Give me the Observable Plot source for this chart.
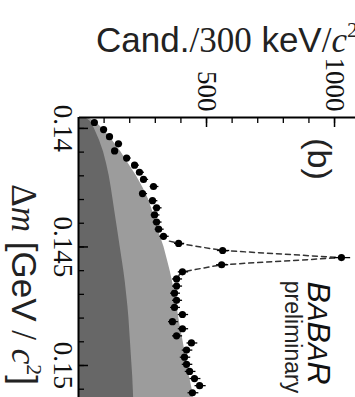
<!DOCTYPE html>
<html><head><meta charset="utf-8">
<script src="https://cdn.jsdelivr.net/npm/d3@7"></script>
<script src="https://cdn.jsdelivr.net/npm/@observablehq/plot@0.6"></script>
<style>
html,body{margin:0;padding:0;overflow:hidden;background:#fff;width:355px;height:397px}
#wrap{position:absolute;left:0;top:0;width:397px;height:355px;transform-origin:0 0;transform:translate(355px,0) rotate(90deg);}
</style></head><body><div id="wrap"></div>
<script>
// Δm bin centres (GeV/c^2) and candidate counts per 300 keV/c^2
const binDm = [0.13975,0.14005,0.14035,0.14065,0.14095,0.14125,0.14155,0.14185,0.14215,0.14245,
  0.14275,0.14305,0.14335,0.14365,0.14395,0.14425,0.14455,0.14485,0.14515,0.14545,
  0.14575,0.14605,0.14635,0.14665,0.14695,0.14725,0.14755,0.14785,0.14815,0.14845,
  0.14875,0.14905,0.14935,0.14965,0.14995,0.15025,0.15055,0.15085,0.15115];
const counts = [62,98,121,156,141,188,219,238,254,293,
  250,289,305,297,305,313,332,391,563,1027,
  559,406,383,383,375,383,375,406,367,406,
  383,441,422,414,422,434,453,473,445];
// background components
const bgDm = [0.13954,0.1397,0.1400,0.1405,0.1410,0.1415,0.1420,0.1425,0.1430,0.1435,0.1440,0.1445,0.1450,
  0.1455,0.1460,0.1465,0.1470,0.1475,0.1480,0.1485,0.1490,0.1495,0.1500,0.1505,0.1510,0.1515];
const darkBg = [22,42,58,78,94,106,116,124,131,138,145,152,159,166,173,179,184,189,193,196,199,202,205,208,210,212];
const totalBg = [30,60,90,128,162,192,222,248,270,286,300,314,330,342,354,364,373,381,388,396,405,413,421,430,440,446];
// dashed fit line through the peak
const fitDm = [0.144755,0.14485,0.14515,0.14545,0.14575,0.14605,0.14629];
const fitCount = [355,391,563,1027,559,406,383];
// axes
const xDomain = [0.13954, 0.15135];
const yDomain = [0, 1078];
const xMajor = [0.14, 0.145, 0.15];
const xMajorLabels = ["0.14", "0.145", "0.15"];
const xMinor = [0.140,0.141,0.142,0.143,0.144,0.145,0.146,0.147,0.148,0.149,0.150,0.151];
const yMajor = [500, 1000];
const yMajorLabels = ["500", "1000"];
const yMinor = [100,200,300,400,500,600,700,800,900,1000];

const SANS = "'Liberation Sans', Arial, Helvetica, sans-serif";
const SERIF = "'Liberation Serif', 'Times New Roman', serif";

const pts = binDm.map((d, i) => ({dm: d, n: counts[i]}));
const bg = bgDm.map((d, i) => ({dm: d, dark: darkBg[i], total: totalBg[i]}));
const fit = fitDm.map((d, i) => ({dm: d, n: fitCount[i]}));

const W = 397, H = 355, mL = 117, mB = 79;
const innerH = H - mB, innerW = W - mL;

const chart = Plot.plot({
  width: W, height: H,
  marginLeft: mL, marginRight: 0, marginTop: 0, marginBottom: mB,
  x: {domain: xDomain},
  y: {domain: yDomain},
  style: {background: "transparent", overflow: "visible"},
  marks: [
    Plot.areaY(bg, {x: "dm", y: "total", fill: "#9c9c9c"}),
    Plot.areaY(bg, {x: "dm", y: "dark", fill: "#676767"}),
    Plot.line(fit, {x: "dm", y: "n", stroke: "#333", strokeWidth: 1.5, strokeDasharray: "5,4"}),
    Plot.ruleX(pts, {x: "dm", y1: d => d.n - Math.sqrt(d.n), y2: d => d.n + Math.sqrt(d.n), stroke: "#000", strokeWidth: 1.3}),
    Plot.dot(pts, {x: "dm", y: "n", r: 3.6, fill: "#000", stroke: null}),
    Plot.tickX(xMinor, {x: d => d, insetTop: innerH - 5, stroke: "#000", strokeWidth: 1.3}),
    Plot.tickX(xMajor, {x: d => d, insetTop: innerH - 9, stroke: "#000", strokeWidth: 1.5}),
    Plot.tickY(yMinor, {y: d => d, insetRight: innerW - 6, stroke: "#000", strokeWidth: 1.3}),
    Plot.tickY(yMajor, {y: d => d, insetRight: innerW - 10, stroke: "#000", strokeWidth: 1.5}),
    Plot.ruleY([yDomain[0]], {stroke: "#000", strokeWidth: 2}),
    Plot.ruleX([xDomain[0]], {stroke: "#000", strokeWidth: 2}),
    Plot.axisX(xMajor, {tickSize: 0, tickPadding: 5, label: null, fontSize: 27, fontFamily: SERIF, fill: "#111",
      tickFormat: d => xMajorLabels[xMajor.indexOf(d)]}),
    Plot.axisY(yMajor, {tickSize: 0, tickPadding: 6, label: null, fontSize: 27, fontFamily: SERIF, fill: "#111",
      tickFormat: d => yMajorLabels[yMajor.indexOf(d)]})
  ]
});
document.getElementById("wrap").appendChild(chart);

const svg = d3.select(chart);
const sx = chart.scale("x"), sy = chart.scale("y");

// y title (appears horizontal after rotation)
const yt = svg.append("text")
  .attr("transform", `translate(52, ${sy.apply(yDomain[1]) - 3}) rotate(-90)`)
  .attr("text-anchor", "end").attr("font-size", 35).attr("fill", "#222");
yt.append("tspan").attr("font-family", SANS).text("Cand.");
yt.append("tspan").attr("font-family", SERIF).text("/300");
yt.append("tspan").attr("font-family", SANS).text(" keV");
yt.append("tspan").attr("font-family", SERIF).text("/");
yt.append("tspan").attr("font-family", SERIF).attr("font-style", "italic").text("c");
yt.append("tspan").attr("font-family", SERIF).attr("font-size", 22).attr("dy", -15).text("2");

// x title
const xt = svg.append("text")
  .attr("transform", `translate(${sx.apply(xDomain[1]) - 12}, 343)`)
  .attr("text-anchor", "end").attr("font-size", 35).attr("fill", "#222");
xt.append("tspan").attr("font-family", SERIF).text("Δ");
xt.append("tspan").attr("font-family", SERIF).attr("font-style", "italic").text("m");
xt.append("tspan").attr("font-family", SANS).text(" [GeV");
xt.append("tspan").attr("font-family", SERIF).text(" / ");
xt.append("tspan").attr("font-family", SERIF).attr("font-style", "italic").text("c");
xt.append("tspan").attr("font-family", SERIF).attr("font-size", 22).attr("dy", -15).text("2");
xt.append("tspan").attr("font-family", SANS).attr("dy", 15).text("]");

// (b) label
svg.append("text").attr("x", 159).attr("y", 47).attr("text-anchor", "middle")
  .attr("font-family", SANS).attr("font-size", 34).attr("fill", "#222").text("(b)");

// BABAR preliminary
const bb = svg.append("text").attr("x", 333).attr("y", 47).attr("text-anchor", "middle")
  .attr("font-family", SANS).attr("font-style", "italic").attr("font-size", 32).attr("fill", "#111");
bb.append("tspan").text("B");
bb.append("tspan").attr("font-size", 28).text("A");
bb.append("tspan").text("B");
bb.append("tspan").attr("font-size", 28).text("A");
bb.append("tspan").text("R");
svg.append("text").attr("x", 337).attr("y", 70).attr("text-anchor", "middle")
  .attr("font-family", SANS).attr("font-size", 23).attr("fill", "#222").text("preliminary");
</script></body></html>
